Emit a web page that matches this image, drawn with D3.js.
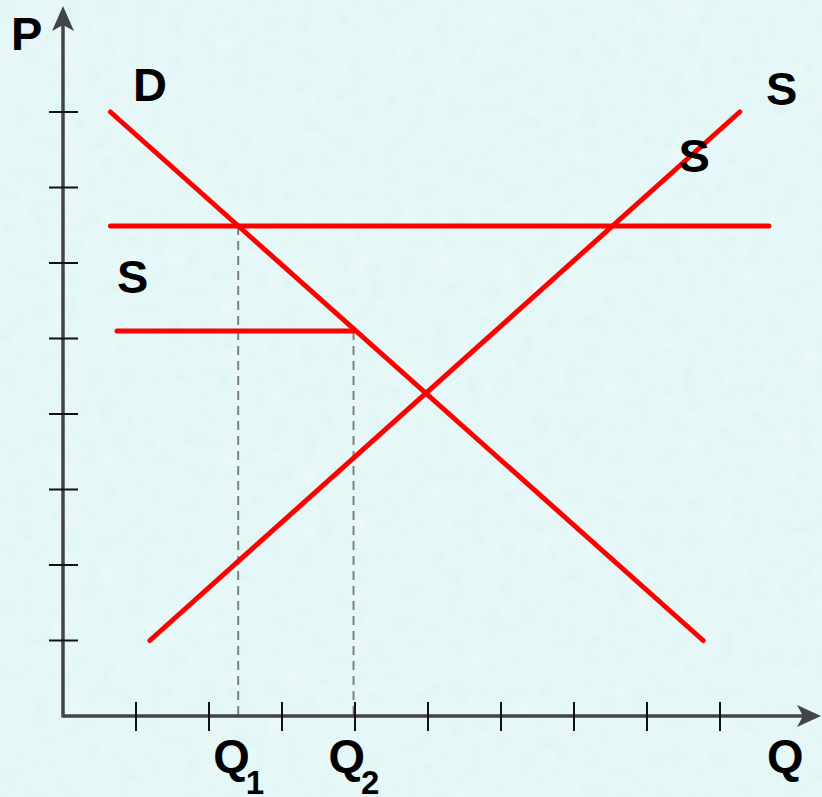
<!DOCTYPE html>
<html>
<head>
<meta charset="utf-8">
<style>
  body { margin: 0; background: #e6f7f7; }
  svg { display: block; }
  text { font-family: "Liberation Sans", Arial, sans-serif; font-weight: bold; fill: #000; }
</style>
</head>
<body>
<div id="graph_div"></div>
<script src="https://d3js.org/d3.v7.min.js"></script>
<script>

// chart values (data units: one unit per tick)
let x_ticks = [1, 2, 3, 4, 5, 6, 7, 8, 9];
let y_ticks = [1, 2, 3, 4, 5, 6, 7, 8];
let demand = [[0.65, 8], [8.77, 1]];
let supply = [[1.19, 1], [9.27, 8]];
let price_high = [[0.65, 6.49], [9.67, 6.49]];
let price_low = [[0.74, 5.1], [3.98, 5.1]];
let q_marks = [{name: "Q", sub: "1", q: 2.4, p: 6.49}, {name: "Q", sub: "2", q: 3.98, p: 5.1}];
let curve_labels = [
  {text: "D", q: 0.96, p: 8.15},
  {text: "S", q: 9.63, p: 8.09},
  {text: "S", q: 8.43, p: 7.2},
  {text: "S", q: 0.74, p: 5.6}
];

let container_width = 822,
    container_height = 797,
    origin = {x: 63, y: 716};

let svg = d3.select("#graph_div")
  .append("svg")
    .attr("width", container_width)
    .attr("height", container_height);

// textured-paper look: light cyan with a faint noise pattern
let defs = svg.append("defs");
let filter = defs.append("filter").attr("id", "paper");
filter.append("feTurbulence")
    .attr("type", "fractalNoise")
    .attr("baseFrequency", 0.06)
    .attr("numOctaves", 3)
    .attr("seed", 4);
filter.append("feColorMatrix")
    .attr("type", "matrix")
    .attr("values", "0 0 0 0 1  0 0 0 0 1  0 0 0 0 1  0 0 0 0.45 -0.1");
svg.append("rect")
    .attr("width", container_width)
    .attr("height", container_height)
    .attr("fill", "#e2f6f6");
svg.append("rect")
    .attr("width", container_width)
    .attr("height", container_height)
    .attr("filter", "url(#paper)");

let x = d3.scaleLinear().domain([0, 1]).range([origin.x, origin.x + 73]);
let y = d3.scaleLinear().domain([0, 1]).range([origin.y, origin.y - 75.5]);

// dashed guides down to the Q axis
svg.selectAll(".guide")
  .data(q_marks)
  .enter()
  .append("line")
    .attr("x1", d => x(d.q))
    .attr("x2", d => x(d.q))
    .attr("y1", d => y(d.p))
    .attr("y2", y(0))
    .attr("stroke", "#808080")
    .attr("stroke-width", 2)
    .attr("stroke-dasharray", "9,6");

// axes with arrowheads
let axis_color = "#444";
svg.append("line")
    .attr("x1", x(0)).attr("y1", y(0))
    .attr("x2", 812).attr("y2", y(0))
    .attr("stroke", axis_color).attr("stroke-width", 3.5);
svg.append("line")
    .attr("x1", x(0)).attr("y1", y(0) + 1.5)
    .attr("x2", x(0)).attr("y2", 16)
    .attr("stroke", axis_color).attr("stroke-width", 3.5);
svg.append("path")
    .attr("d", "M821,716 L797,705 L803,716 L797,727 Z")
    .attr("fill", axis_color);
svg.append("path")
    .attr("d", "M63,6 L52,31 L63,25 L74,31 Z")
    .attr("fill", axis_color);

// ticks
svg.selectAll(".xtick")
  .data(x_ticks)
  .enter()
  .append("line")
    .attr("x1", d => x(d)).attr("x2", d => x(d))
    .attr("y1", y(0) - 14).attr("y2", y(0) + 15)
    .attr("stroke", "#111").attr("stroke-width", 2);
svg.selectAll(".ytick")
  .data(y_ticks)
  .enter()
  .append("line")
    .attr("y1", d => y(d)).attr("y2", d => y(d))
    .attr("x1", x(0) - 14).attr("x2", x(0) + 15)
    .attr("stroke", "#111").attr("stroke-width", 2);

// curves
let line = d3.line().x(d => x(d[0])).y(d => y(d[1]));
[price_high, price_low, demand, supply].forEach(function(series) {
  svg.append("path")
      .attr("d", line(series))
      .attr("fill", "none")
      .attr("stroke", "#ff0000")
      .attr("stroke-width", 5)
      .attr("stroke-linecap", "round");
});

// labels
svg.append("text").attr("x", 11).attr("y", 50).attr("font-size", 47).text("P");
svg.append("text").attr("x", 767).attr("y", 772).attr("font-size", 47).text("Q");

svg.selectAll(".curve_label")
  .data(curve_labels)
  .enter()
  .append("text")
    .attr("x", d => x(d.q))
    .attr("y", d => y(d.p))
    .attr("font-size", 47)
    .text(d => d.text);

let qlab = svg.selectAll(".qlab")
  .data(q_marks)
  .enter()
  .append("text")
    .attr("x", d => x(d.q) - 25)
    .attr("y", 772)
    .attr("font-size", 47);
qlab.append("tspan").text(d => d.name);
qlab.append("tspan")
    .attr("font-size", 33)
    .attr("dx", -4)
    .attr("dy", 22)
    .text(d => d.sub);

</script>
</body>
</html>
